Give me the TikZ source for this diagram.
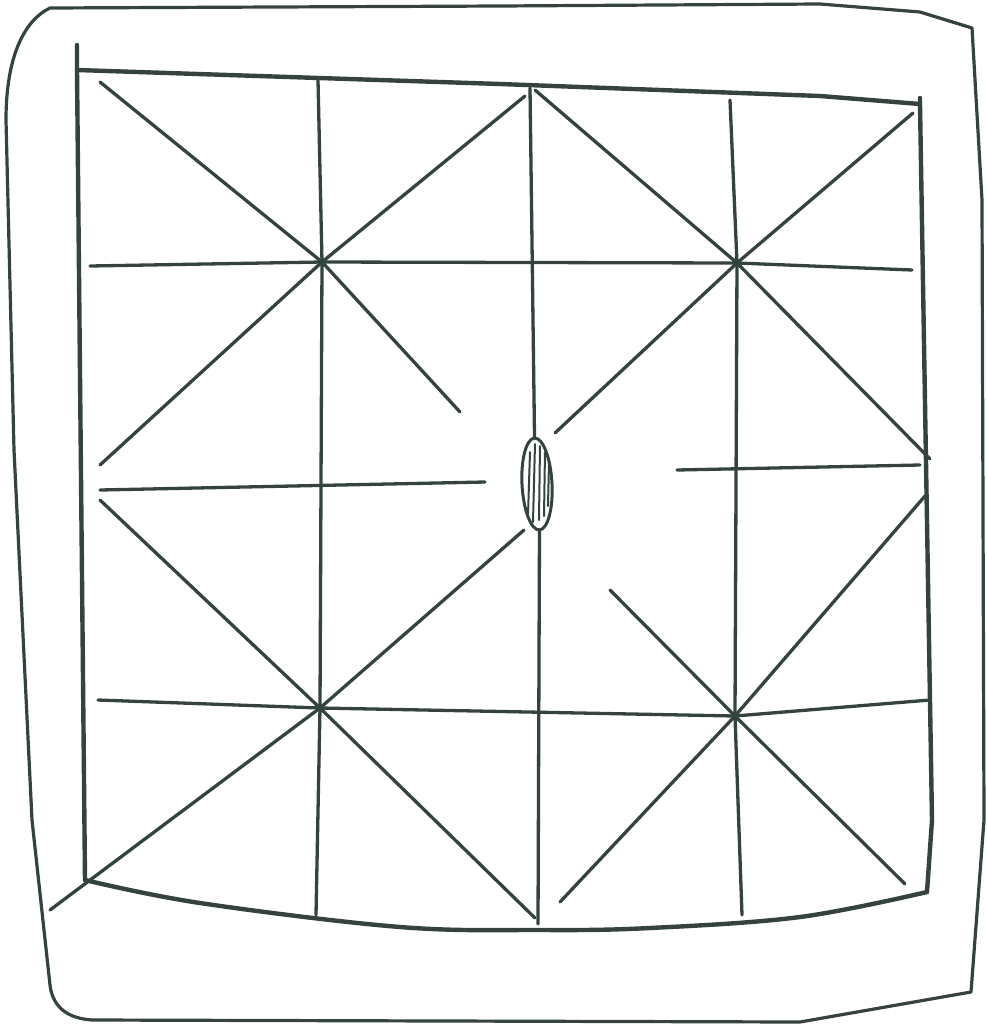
\documentclass[tikz,border=0pt]{standalone}
\usetikzlibrary{shapes.geometric}
\definecolor{ink}{HTML}{34433E}
\begin{document}
\begin{tikzpicture}[x=1pt,y=-1pt,
  pen/.style={draw=ink,line width=3.3pt,line cap=round,line join=round},
  frame/.style={draw=ink,line width=4.4pt,line cap=round,line join=round},
  rim/.style={draw=ink,line width=3.2pt,line cap=round,line join=round},
  hub/.style={draw=ink,line width=3pt,ellipse,minimum width=30pt,minimum height=92pt,inner sep=0pt}]
\useasboundingbox (0,0) rectangle (986,1026);
% outer board edge
\draw[rim] (50,8) -- (500,6) -- (820,4) -- (920,12) -- (972,28) -- (982,200) -- (984,820) -- (971,992)
  -- (800,1022) -- (92,1020) .. controls (62,1018) and (52,1002) .. (50,985) -- (32,820) -- (14,450) -- (6,120)
  .. controls (6,55) and (25,20) .. (50,8) -- cycle;
% intersection points
\coordinate (A) at (322,262);
\coordinate (B) at (737,263);
\coordinate (C) at (320,708);
\coordinate (D) at (735,716);
\node[hub,rotate=3] (O) at (537,484) {};
% inner square
\coordinate (TL) at (77,70);
\coordinate (TR) at (920,104);
\coordinate (BR) at (927,892);
\coordinate (BL) at (85,880);
\draw[frame] (77,45) -- (TL) -- (BL);
\draw[frame] (TL) -- (500,84) -- (820,96) -- (TR);
\draw[frame] (920,98) -- (TR) -- (932,820) -- (BR);
\draw[frame] plot[smooth,tension=0.6] coordinates {(BL) (200,903) (400,927) (540,930) (650,928) (800,917) (BR)};
% verticals
\coordinate (v1t) at (318,80);  \coordinate (v1b) at (316,915);
\coordinate (v2t) at (530,88);  \coordinate (v2b) at (538,924);
\coordinate (v3t) at (730,100); \coordinate (v3b) at (742,915);
\draw[pen] (v1t) -- (A) -- (C) -- (v1b);
\draw[pen] (v2t) -- (O.north);
\draw[pen] (O.south) -- (v2b);
\draw[pen] (v3t) -- (B) -- (D) -- (v3b);
% horizontals
\coordinate (h1l) at (90,266);  \coordinate (h1r) at (912,270);
\coordinate (h2l) at (100,490); \coordinate (h2r) at (485,482);
\coordinate (h3l) at (677,470); \coordinate (h3r) at (920,465);
\coordinate (h4l) at (98,700);  \coordinate (h4r) at (930,700);
\draw[pen] (h1l) -- (A) -- (B) -- (h1r);
\draw[pen] (h2l) -- (h2r);
\draw[pen] (h3l) -- (h3r);
\draw[pen] (h4l) -- (C) -- (D) -- (h4r);
% diagonals through A
\coordinate (a1) at (100,82);  \coordinate (a2) at (460,412);
\coordinate (a3) at (525,96);  \coordinate (a4) at (100,465);
\draw[pen] (a1) -- (A) -- (a2);
\draw[pen] (a3) -- (A) -- (a4);
% diagonals through B
\coordinate (b1) at (535,90);  \coordinate (b2) at (930,459);
\coordinate (b3) at (913,113); \coordinate (b4) at (555,433);
\draw[pen] (b1) -- (B) -- (b2);
\draw[pen] (b3) -- (B) -- (b4);
% diagonals through C
\coordinate (c1) at (100,500); \coordinate (c2) at (535,918);
\coordinate (c3) at (524,530); \coordinate (c4) at (50,910);
\draw[pen] (c1) -- (C) -- (c2);
\draw[pen] (c3) -- (C) -- (c4);
% diagonals through D
\coordinate (d1) at (925,496); \coordinate (d2) at (560,902);
\coordinate (d3) at (610,590); \coordinate (d4) at (905,884);
\draw[pen] (d1) -- (D) -- (d2);
\draw[pen] (d3) -- (D) -- (d4);
% hatching inside the hub
\draw[ink,line width=2pt,line cap=round] (530,452) -- (528,515) (535,444) -- (533,522) (540,446) -- (539,520) (545,452) -- (544,516) (549,462) -- (548,506);
\end{tikzpicture}
\end{document}
